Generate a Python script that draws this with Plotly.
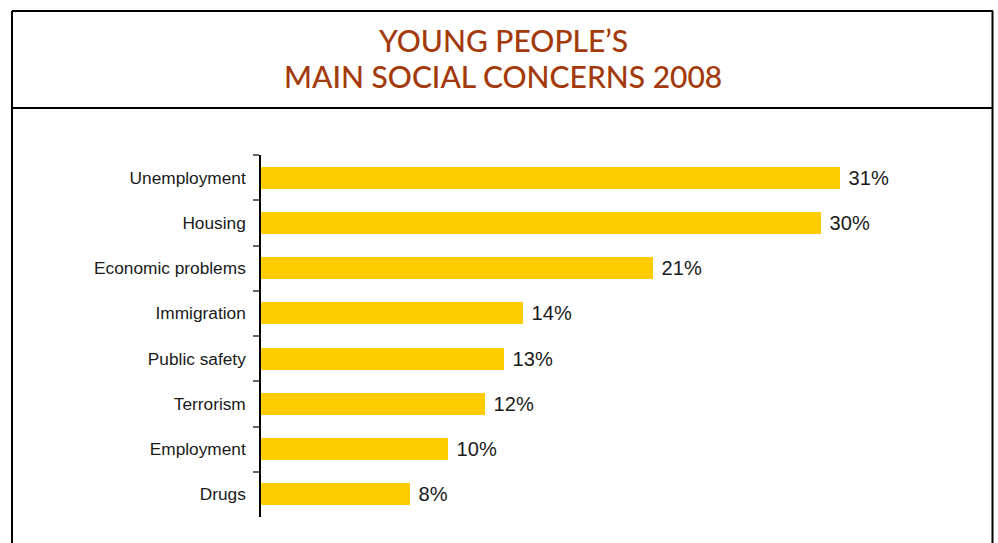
import plotly.graph_objects as go

categories = ["Unemployment", "Housing", "Economic problems", "Immigration",
              "Public safety", "Terrorism", "Employment", "Drugs"]
values = [31, 30, 21, 14, 13, 12, 10, 8]
value_labels = ["31%", "30%", "21%", "14%", "13%", "12%", "10%", "8%"]
title_lines = ["YOUNG PEOPLE’S", "MAIN SOCIAL CONCERNS 2008"]

W, H = 998, 543
L, R, T, B = 261, 37, 155, 26
PW, PH = W - L - R, H - T - B
PX_PER_UNIT = 18.68


def xp(px):
    return (px - L) / PW


def yp(py):
    return (H - B - py) / PH


fig = go.Figure(go.Bar(
    x=values,
    y=categories,
    orientation="h",
    marker=dict(color="#FFCC00", line=dict(width=0)),
    width=0.486,
    text=[" " + t for t in value_labels],
    textposition="outside",
    textfont=dict(family="Liberation Sans, Arial, sans-serif", size=21, color="#1a1a1a"),
    cliponaxis=False,
    hoverinfo="skip",
))

frame = dict(color="black", width=2)
fig.update_layout(
    width=W, height=H,
    margin=dict(l=L, r=R, t=T, b=B, pad=0),
    paper_bgcolor="white",
    plot_bgcolor="white",
    showlegend=False,
    bargap=0,
    xaxis=dict(range=[0, PW / PX_PER_UNIT], visible=False, fixedrange=True),
    yaxis=dict(
        autorange="reversed",
        showline=True, linecolor="#000000", linewidth=1.5,
        ticks="outside", ticklen=6, tickcolor="#666666", tickwidth=1.5,
        tickson="boundaries",
        ticklabelstandoff=10,
        tickfont=dict(family="Liberation Sans, Arial, sans-serif",
                      size=17.3, color="#1a1a1a"),
        showgrid=False, zeroline=False, fixedrange=True,
    ),
    shapes=[
        dict(type="line", xref="paper", yref="paper",
             x0=xp(12), x1=xp(993), y0=yp(11), y1=yp(11), line=frame),
        dict(type="line", xref="paper", yref="paper",
             x0=xp(12), x1=xp(12), y0=yp(11), y1=yp(560), line=frame),
        dict(type="line", xref="paper", yref="paper",
             x0=xp(992.5), x1=xp(992.5), y0=yp(11), y1=yp(560), line=frame),
        dict(type="line", xref="paper", yref="paper",
             x0=xp(12), x1=xp(993), y0=yp(108), y1=yp(108), line=frame),
    ],
    annotations=[
        dict(text=title_lines[0], xref="paper", yref="paper",
             x=xp(502.5), y=yp(40), xanchor="center", yanchor="middle",
             showarrow=False,
             font=dict(family="Lato, sans-serif", size=30, weight=500, color="#A33A0B")),
        dict(text=title_lines[1], xref="paper", yref="paper",
             x=xp(502.5), y=yp(76), xanchor="center", yanchor="middle",
             showarrow=False,
             font=dict(family="Lato, sans-serif", size=30, weight=500, color="#A33A0B")),
    ],
)

fig.write_html("out.html", config={"displayModeBar": False},
               post_script="document.body.style.margin='0';")
